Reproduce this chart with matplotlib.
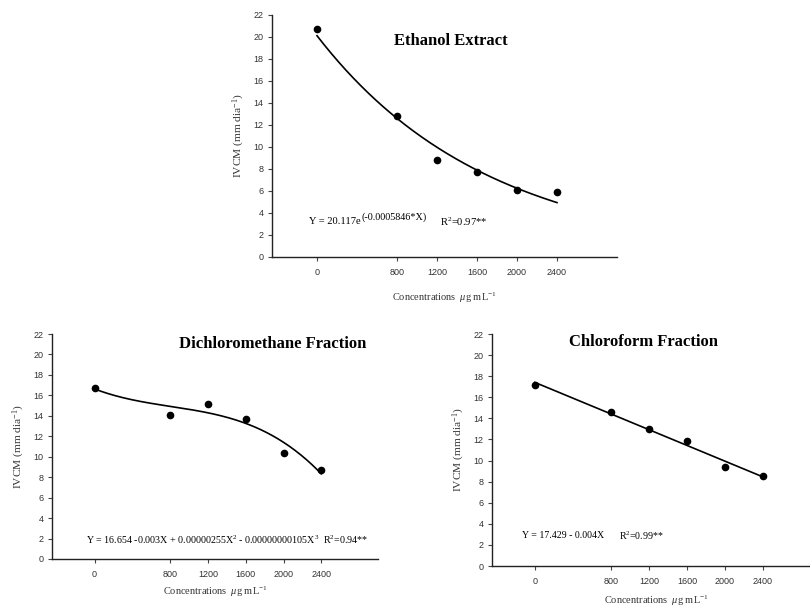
import matplotlib
matplotlib.use("Agg")
import matplotlib.pyplot as plt
import numpy as np

plt.rcParams['mathtext.fontset'] = 'custom'
plt.rcParams['mathtext.rm'] = 'Liberation Serif'
plt.rcParams['mathtext.it'] = 'Liberation Serif:italic'

# concentrations (ug/mL) and IVCM readings
conc = [0, 800, 1200, 1600, 2000, 2400]
ethanol = [20.7, 12.8, 8.8, 7.7, 6.1, 5.9]
dichloro = [16.75, 14.1, 15.2, 13.7, 10.4, 8.7]
chloro = [17.2, 14.6, 13.0, 11.9, 9.4, 8.5]

# exponential fit coefficients as printed on the chart
eth_a = 20.117
eth_b = -0.0005846

yticks = list(range(0, 23, 2))
serif = 'Liberation Serif'
sans = 'Liberation Sans'

fig = plt.figure(figsize=(8.1, 6.07), dpi=100)


def style_axes(ax, xpad):
    ax.set_xlim(-450, 3000)
    ax.set_ylim(0, 22)
    ax.set_xticks(conc)
    ax.set_yticks(yticks)
    for s in ['top', 'right']:
        ax.spines[s].set_visible(False)
    for s in ['left', 'bottom']:
        ax.spines[s].set_linewidth(1.0)
        ax.spines[s].set_color('#222222')
    ax.tick_params(direction='out', length=3, width=0.8, colors='#444444',
                   labelsize=6.5)
    ax.tick_params(axis='x', pad=5)
    ax.tick_params(axis='y', pad=3)
    for lab in ax.get_xticklabels() + ax.get_yticklabels():
        lab.set_fontfamily(sans)
        lab.set_color('#333333')
    ax.set_ylabel(r'IVCM (mm dia$^{-1}$)', fontfamily=serif, fontsize=8.2,
                  color='#333333', labelpad=5)
    ax.set_xlabel(r'Concentrations  $\mu$g mL$^{-1}$', fontfamily=serif,
                  fontsize=7.5, color='#333333', labelpad=xpad)


xs = np.linspace(0, 2400, 200)

# --- Ethanol extract (top)
ax1 = fig.add_axes([272 / 810, 1 - 257 / 607, (617 - 272) / 810, (257 - 15) / 607])
style_axes(ax1, 10)
ax1.plot(xs, eth_a * np.exp(eth_b * xs), color='black', lw=1.2)
ax1.plot(conc, ethanol, 'o', color='black', ms=4.5)
ax1.text(1340, 19.6, 'Ethanol Extract', fontfamily=serif, fontweight='bold',
         fontsize=12, ha='center', va='center')
ax1.text(-80, 3.2, 'Y = 20.117e', fontfamily=serif, fontsize=7.6, va='center')
ax1.text(450, 3.65, '(-0.0005846*X)', fontfamily=serif, fontsize=7.3, va='center')
ax1.text(1230, 3.2, r'R$^{2}$=0.97**', fontfamily=serif, fontsize=7.6,
         va='center')

# --- Dichloromethane fraction (bottom left)
ax2 = fig.add_axes([52 / 810, 1 - 559 / 607, (378 - 52) / 810, (559 - 334) / 607])
style_axes(ax2, 4)
c3 = np.polyfit(conc, dichloro, 3)
ax2.plot(xs, np.polyval(c3, xs), color='black', lw=1.2)
ax2.plot(conc, dichloro, 'o', color='black', ms=4.5)
ax2.text(1882, 21.0, 'Dichloromethane Fraction', fontfamily=serif,
         fontweight='bold', fontsize=12, ha='center', va='center')
ax2.text(-95, 1.9, r'Y = 16.654 -0.003X + 0.00000255X$^{2}$ - 0.00000000105X$^{3}$'
         r'  R$^{2}$=0.94**', fontfamily=serif, fontsize=7.2, va='center')

# --- Chloroform fraction (bottom right)
ax3 = fig.add_axes([492 / 810, 1 - 566 / 607, (820 - 492) / 810, (566 - 334) / 607])
style_axes(ax3, 5.5)
c1 = np.polyfit(conc, chloro, 1)
ax3.plot(xs, np.polyval(c1, xs), color='black', lw=1.2)
ax3.plot(conc, chloro, 'o', color='black', ms=4.5)
ax3.text(1144, 21.2, 'Chloroform Fraction', fontfamily=serif, fontweight='bold',
         fontsize=12, ha='center', va='center')
ax3.text(-136, 2.9, 'Y = 17.429 - 0.004X', fontfamily=serif, fontsize=7.1,
         va='center')
ax3.text(881, 2.9, r'R$^{2}$=0.99**', fontfamily=serif, fontsize=7.1, va='center')

fig.savefig('out.png', dpi=100)
